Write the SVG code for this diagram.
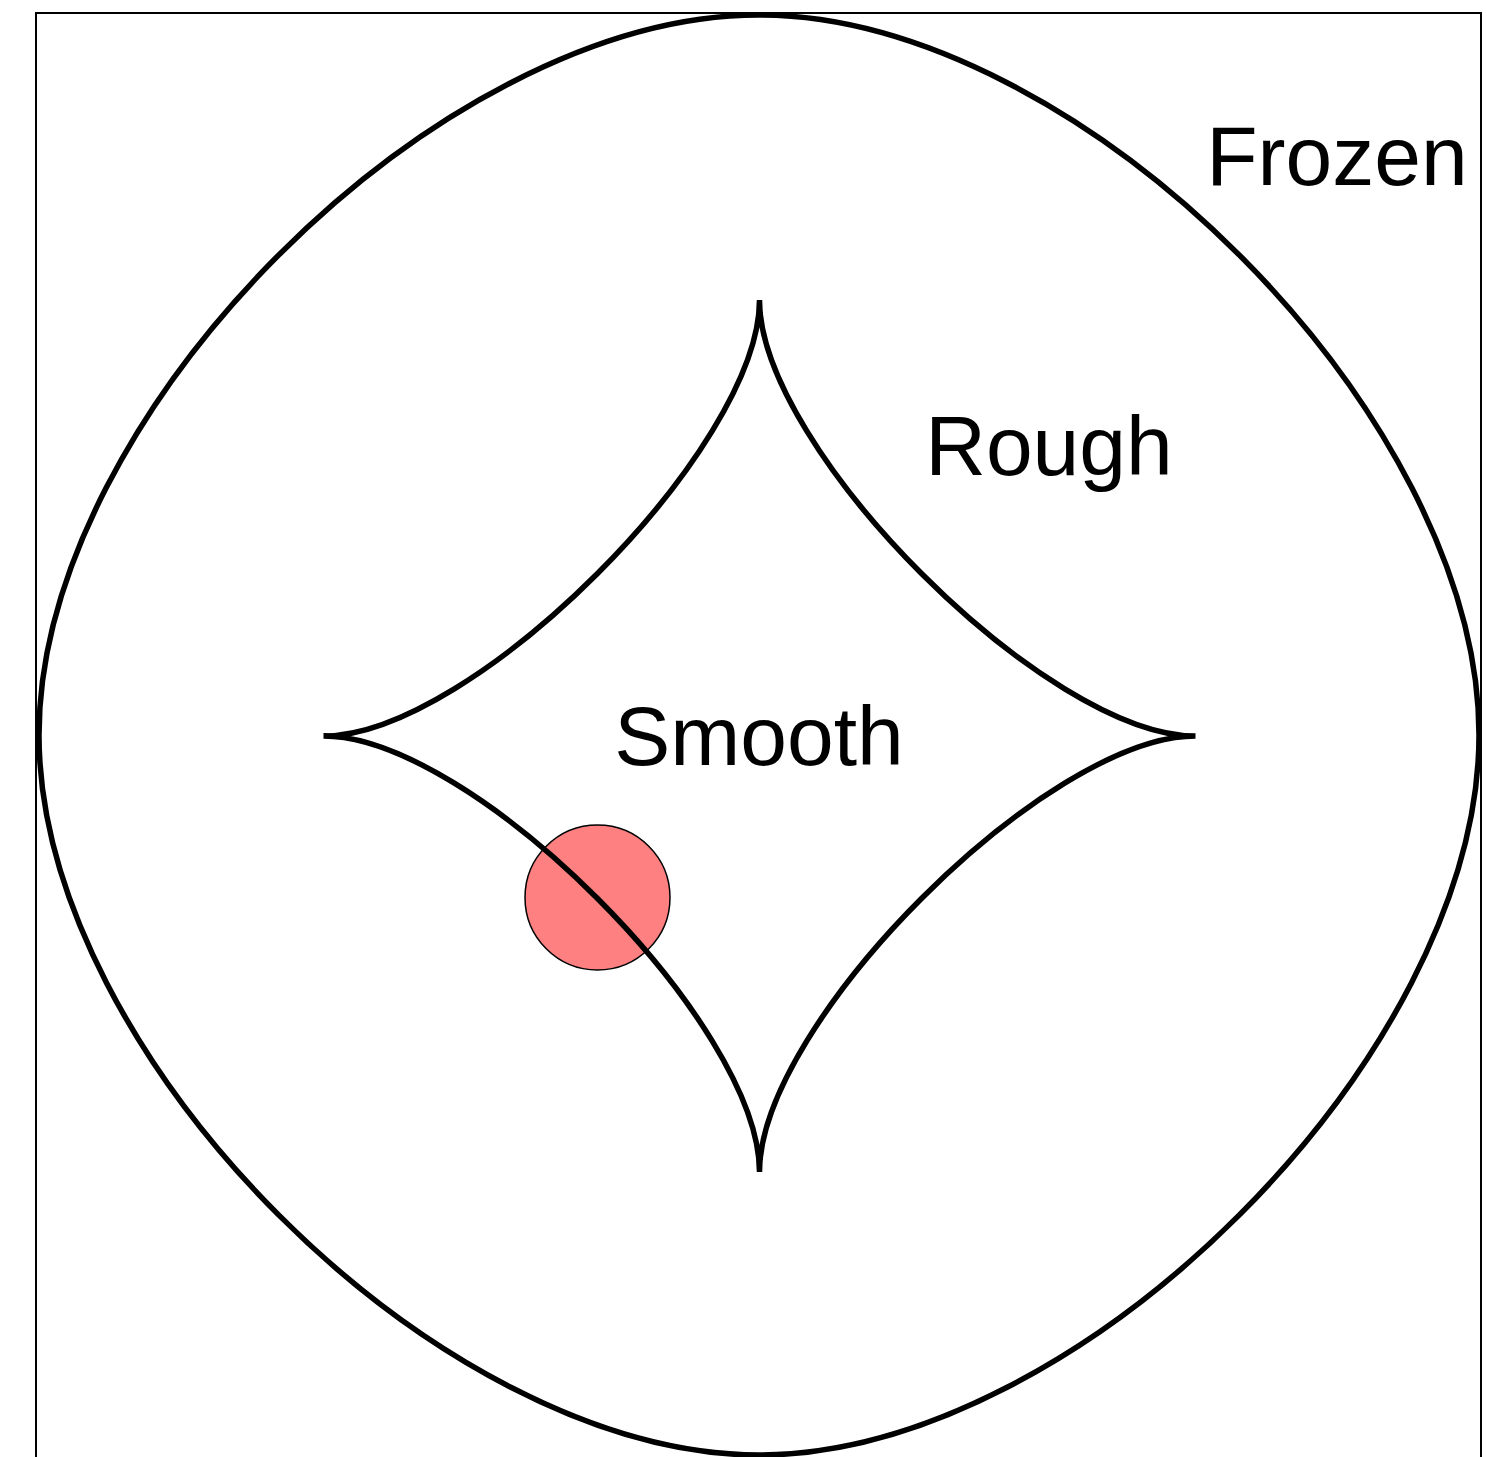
<svg xmlns="http://www.w3.org/2000/svg" width="1487" height="1457" viewBox="0 0 1487 1457">
  <style>
    .curve { fill: none; stroke: #000; stroke-width: 5.5; }
    .label { font-family: "Liberation Sans", Arial, sans-serif; font-size: 84px; fill: #000; text-anchor: middle; }
  </style>
  <rect width="1487" height="1457" fill="#fff"/>
  <g id="frame">
    <path d="M36,1460 V13 H1481 V1460" fill="none" stroke="#000" stroke-width="2"/>
  </g>
  <g id="marker">
    <circle cx="597.5" cy="897.5" r="72.5" fill="#ff8080" stroke="#000" stroke-width="1.5"/>
  </g>
  <g id="boundaries">
    <path id="frozen-boundary" class="curve" d="M759,15 C1079.4,15 1479,414.6 1479,735 C1479,1055.4 1079.4,1455 759,1455 C438.6,1455 39,1055.4 39,735 C39,414.6 438.6,15 759,15 Z"/>
    <path id="smooth-boundary" class="curve" d="M759.5,300 C759.5,448.7 1046.8,736 1195.5,736 C1046.8,736 759.5,1023.3 759.5,1172 C759.5,1023.3 472.2,736 323.5,736 C472.2,736 759.5,448.7 759.5,300 Z"/>
  </g>
  <g id="labels">
    <text id="frozen" class="label" x="1337" y="185">Frozen</text>
    <text id="rough" class="label" x="1049" y="475">Rough</text>
    <text id="smooth" class="label" x="759" y="765">Smooth</text>
  </g>
</svg>
